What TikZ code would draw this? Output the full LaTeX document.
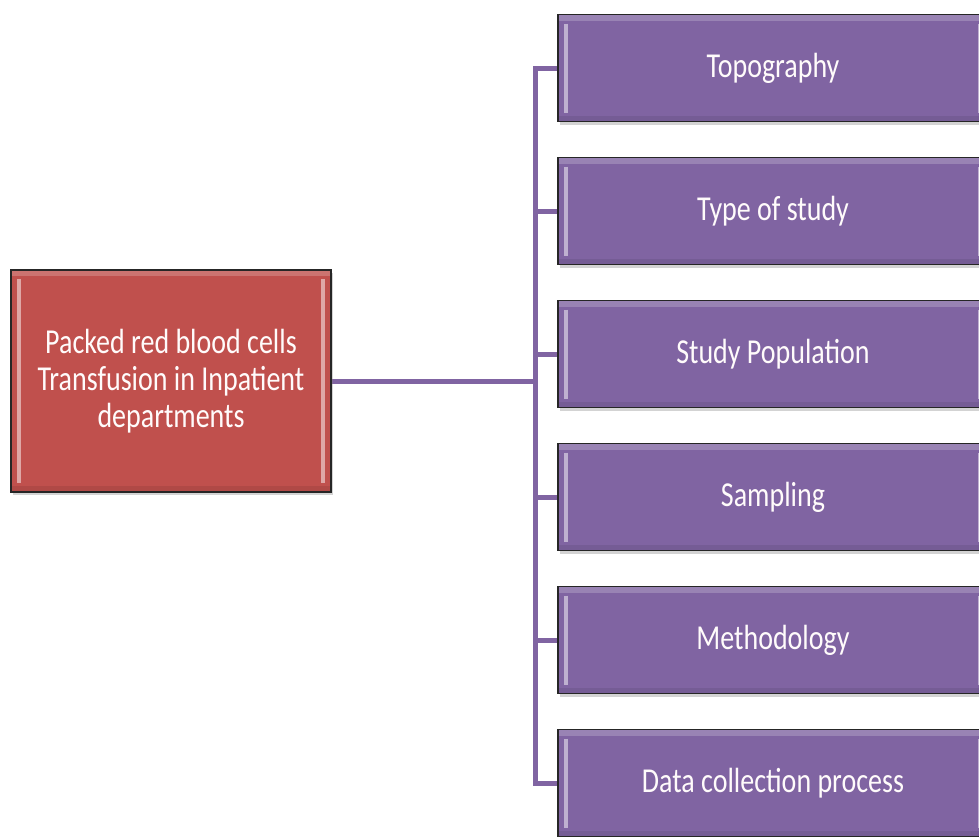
\documentclass[tikz,border=0pt]{standalone}
\usepackage{fontspec}
\newfontfamily\boxfont[FakeStretch=0.8]{Carlito}
\usepackage{xcolor}
\usepackage{tikz}
\usetikzlibrary{positioning,calc,shadows,backgrounds}
\definecolor{pkdred}{HTML}{C0504D}
\definecolor{stepviolet}{HTML}{8064A2}

\begin{document}
\begin{tikzpicture}[x=1pt,y=-1pt,
  bevelbox/.style={draw=black!85, line width=1.6pt, text=white!94!pink,
    font=\boxfont\fontsize{35}{37}\selectfont, align=center,
    drop shadow={shadow xshift=2pt,shadow yshift=-3pt,opacity=0.35},
    path picture={
      \fill[white,opacity=0.2] (path picture bounding box.north west) rectangle ([yshift=-6pt]path picture bounding box.north east);
      \fill[black,opacity=0.08] ([yshift=6pt]path picture bounding box.south west) rectangle (path picture bounding box.south east);
      \draw[white,opacity=0.5,line width=4pt]
        ([xshift=8pt,yshift=-9pt]path picture bounding box.north west) -- ([xshift=8pt,yshift=9pt]path picture bounding box.south west)
        ([xshift=-8pt,yshift=-9pt]path picture bounding box.north east) -- ([xshift=-8pt,yshift=9pt]path picture bounding box.south east);
    }},
  mainbox/.style={bevelbox, fill=pkdred, minimum width=320pt, minimum height=222pt},
  topicbox/.style={bevelbox, fill=stepviolet, minimum width=430pt, minimum height=107pt},
  link/.style={draw=stepviolet, line width=5pt, line cap=rect}]
\useasboundingbox (0,0) rectangle (979,836);
\clip (0,0) rectangle (979,836);

\node[mainbox] (pkd) at (171,381) {Packed red blood cells\\Transfusion in Inpatient\\departments};
\foreach \name/\ypos/\txt in {top/68/Topography,typ/211/Type of study,pop/354/Study Population,smp/497/Sampling,mth/640/Methodology,dcp/783/Data collection process} {
    \node[topicbox] (\name) at (773,\ypos) {\txt};
}

\coordinate (spine) at (535,381);
\begin{scope}[on background layer]
\draw[link] (pkd.east) -- (spine);
\draw[link] (top.west -| spine) -- (dcp.west -| spine);
\foreach \name in {top,typ,pop,smp,mth,dcp} {
    \draw[link] (\name.west -| spine) -- (\name.west);
}
\end{scope}
\end{tikzpicture}
\end{document}
